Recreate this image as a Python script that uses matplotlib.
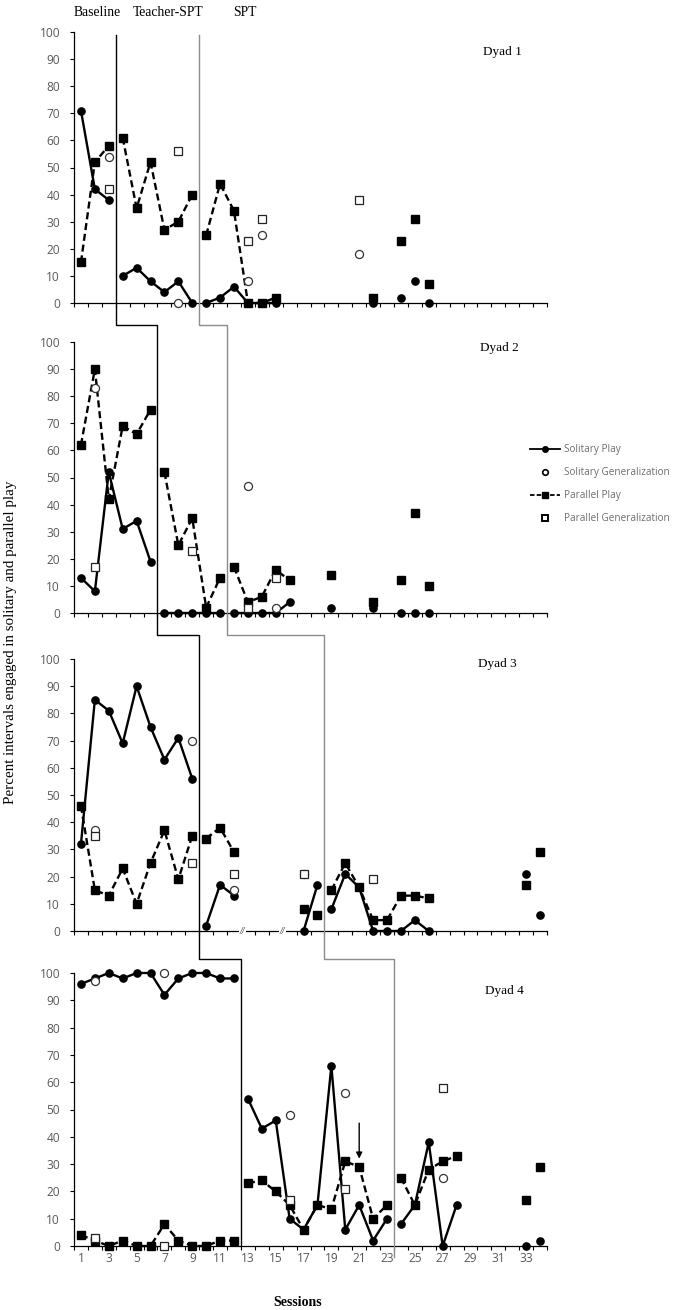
"""Multiple-baseline plot: percent intervals of solitary and parallel play, four dyads."""

import matplotlib
matplotlib.use("Agg")
import matplotlib.pyplot as plt
from matplotlib.lines import Line2D
import numpy as np

SERIF = "Liberation Serif"
SANS = "Open Sans"
TICK_GRAY = "#595959"

# ---- data (session, value) ----
D1_SOL_X = [1, 2, 3, 4, 5, 6, 7, 8, 9, 10, 11, 12, 13, 14, 15, 22, 24, 25, 26]
D1_SOL_Y = [71, 42, 38, 10, 13, 8, 4, 8, 0, 0, 2, 6, 0, 0, 0, 0, 2, 8, 0]
D1_PAR_X = [1, 2, 3, 4, 5, 6, 7, 8, 9, 10, 11, 12, 13, 14, 15, 22, 24, 25, 26]
D1_PAR_Y = [15, 52, 58, 61, 35, 52, 27, 30, 40, 25, 44, 34, 0, 0, 2, 2, 23, 31, 7]
D1_SGEN_X = [3, 8, 13, 14, 21]
D1_SGEN_Y = [54, 0, 8, 25, 18]
D1_PGEN_X = [3, 8, 13, 14, 21]
D1_PGEN_Y = [42, 56, 23, 31, 38]
D1_RUNS = [(1, 3), (4, 9), (10, 15)]

D2_SOL_X = [1, 2, 3, 4, 5, 6, 7, 8, 9, 10, 11, 12, 13, 14, 15, 16, 19, 22, 24, 25, 26]
D2_SOL_Y = [13, 8, 52, 31, 34, 19, 0, 0, 0, 0, 0, 0, 0, 0, 0, 4, 2, 2, 0, 0, 0]
D2_PAR_X = [1, 2, 3, 4, 5, 6, 7, 8, 9, 10, 11, 12, 13, 14, 15, 16, 19, 22, 24, 25, 26]
D2_PAR_Y = [62, 90, 42, 69, 66, 75, 52, 25, 35, 2, 13, 17, 4, 6, 16, 12, 14, 4, 12, 37, 10]
D2_SGEN_X = [2, 13, 15]
D2_SGEN_Y = [83, 47, 2]
D2_PGEN_X = [2, 9, 13, 15]
D2_PGEN_Y = [17, 23, 2, 13]
D2_RUNS = [(1, 6), (7, 11), (12, 16)]

D3_SOL_X = [1, 2, 3, 4, 5, 6, 7, 8, 9, 10, 11, 12, 17, 18,
            19, 20, 21, 22, 23, 24, 25, 26, 33, 34]
D3_SOL_Y = [32, 85, 81, 69, 90, 75, 63, 71, 56, 2, 17, 13, 0, 17,
            8, 21, 16, 0, 0, 0, 4, 0, 21, 6]
D3_PAR_X = [1, 2, 3, 4, 5, 6, 7, 8, 9, 10, 11, 12, 17, 18,
            19, 20, 21, 22, 23, 24, 25, 26, 33, 34]
D3_PAR_Y = [46, 15, 13, 23, 10, 25, 37, 19, 35, 34, 38, 29, 8, 6,
            15, 25, 16, 4, 4, 13, 13, 12, 17, 29]
D3_SGEN_X = [2, 9, 12, 17]
D3_SGEN_Y = [37, 70, 15, 21]
D3_PGEN_X = [2, 9, 12, 17, 22]
D3_PGEN_Y = [35, 25, 21, 21, 19]
D3_RUNS = [(1, 9), (10, 12), (17, 18), (19, 26)]
D3_BREAKS = [12.6, 15.5]

D4_SOL_X = [1, 2, 3, 4, 5, 6, 7, 8, 9, 10, 11, 12,
            13, 14, 15, 16, 17, 18, 19, 20, 21, 22, 23,
            24, 25, 26, 27, 28, 33, 34]
D4_SOL_Y = [96, 98, 100, 98, 100, 100, 92, 98, 100, 100, 98, 98,
            54, 43, 46, 10, 6, 15, 66, 6, 15, 2, 10,
            8, 15, 38, 0, 15, 0, 2]
D4_PAR_X = [1, 2, 3, 4, 5, 6, 7, 8, 9, 10, 11, 12,
            13, 14, 15, 16, 17, 18, 19, 20, 21, 22, 23,
            24, 25, 26, 27, 28, 33, 34]
D4_PAR_Y = [4, 2, 0, 2, 0, 0, 8, 2, 0, 0, 2, 2,
            23, 24, 20, 15, 6, 15, 13.5, 31, 29, 10, 15,
            25, 15, 28, 31, 33, 17, 29]
D4_SGEN_X = [2, 7, 16, 20, 27]
D4_SGEN_Y = [97, 100, 48, 56, 25]
D4_PGEN_X = [2, 7, 16, 20, 27]
D4_PGEN_Y = [3, 0, 17, 21, 58]
D4_RUNS = [(1, 12), (13, 23), (24, 28)]
D4_ARROW = (21, 45, 32)   # session, from, to

DYADS = [
    ("Dyad 1", D1_SOL_X, D1_SOL_Y, D1_PAR_X, D1_PAR_Y, D1_SGEN_X, D1_SGEN_Y, D1_PGEN_X, D1_PGEN_Y, D1_RUNS),
    ("Dyad 2", D2_SOL_X, D2_SOL_Y, D2_PAR_X, D2_PAR_Y, D2_SGEN_X, D2_SGEN_Y, D2_PGEN_X, D2_PGEN_Y, D2_RUNS),
    ("Dyad 3", D3_SOL_X, D3_SOL_Y, D3_PAR_X, D3_PAR_Y, D3_SGEN_X, D3_SGEN_Y, D3_PGEN_X, D3_PGEN_Y, D3_RUNS),
    ("Dyad 4", D4_SOL_X, D4_SOL_Y, D4_PAR_X, D4_PAR_Y, D4_SGEN_X, D4_SGEN_Y, D4_PGEN_X, D4_PGEN_Y, D4_RUNS),
]

# phase-change lines (session boundary per dyad)
PHASE_TEACHER = [3.5, 6.5, 9.5, 12.5]
PHASE_SPT = [9.5, 11.5, 18.5, 23.5]

# ---- layout (figure pixels from top) ----
W, H = 685, 1310
AX_LEFT, AX_RIGHT = 74, 547
AX_ROWS = [(32, 303), (342, 613), (659, 931), (973, 1246)]
DYAD_LABEL_XY = [(502, 52), (499, 348), (497, 664), (504, 991)]

SOL_KW = dict(color="black", lw=1.7, marker="o", ms=5.2, mfc="black", mec="black", ls="-")
PAR_KW = dict(color="black", lw=1.7, marker="s", ms=5.8, mfc="black", mec="black", ls=(0, (3, 1.6)))
SGEN_KW = dict(ls="none", marker="o", ms=5.8, mfc="white", mec="#333333", mew=0.9)
PGEN_KW = dict(ls="none", marker="s", ms=6.2, mfc="white", mec="#222222", mew=0.9)


def plot_series(ax, xs, ys, runs, kw):
    xs = np.asarray(xs, float)
    ys = np.asarray(ys, float)
    used = np.zeros(len(xs), bool)
    for lo, hi in runs:
        m = (xs >= lo) & (xs <= hi)
        used |= m
        ax.plot(xs[m], ys[m], clip_on=False, zorder=3, **kw)
    lone = dict(kw, ls="none")
    ax.plot(xs[~used], ys[~used], clip_on=False, zorder=3, **lone)


fig = plt.figure(figsize=(W / 100, H / 100), dpi=100)
axes = []
for i, (top, bot) in enumerate(AX_ROWS):
    ax = fig.add_axes([AX_LEFT / W, 1 - bot / H, (AX_RIGHT - AX_LEFT) / W, (bot - top) / H])
    axes.append(ax)
    name, sx, sy, px, py, gsx, gsy, gpx, gpy, runs = DYADS[i]
    plot_series(ax, px, py, runs, PAR_KW)
    plot_series(ax, sx, sy, runs, SOL_KW)
    ax.plot(gsx, gsy, clip_on=False, zorder=4, **SGEN_KW)
    ax.plot(gpx, gpy, clip_on=False, zorder=4, **PGEN_KW)

    ax.set_xlim(0.5, 34.5)
    ax.set_ylim(0, 100)
    ax.set_yticks(np.arange(0, 101, 10))
    ax.set_xticks(np.arange(0.5, 35, 1), minor=True)
    ax.set_xticks(np.arange(1, 35, 2))
    ax.tick_params(axis="x", which="major", length=0, pad=4)
    ax.tick_params(axis="x", which="minor", length=3, width=0.8, direction="out")
    ax.tick_params(axis="y", length=3, width=0.8, direction="out", pad=7,
                   labelsize=8.6, labelcolor=TICK_GRAY)
    for lab in ax.get_yticklabels():
        lab.set_fontfamily(SANS)
    if i < 3:
        ax.set_xticklabels([])
    else:
        ax.set_xticklabels([str(v) for v in range(1, 35, 2)], fontsize=8.6,
                           color=TICK_GRAY, fontfamily=SANS)
    for sp in ("top", "right"):
        ax.spines[sp].set_visible(False)
    for sp in ("left", "bottom"):
        ax.spines[sp].set_linewidth(0.9)
    ax.patch.set_alpha(0)

    lx, ly = DYAD_LABEL_XY[i]
    fig.text(lx / W, 1 - ly / H, name, ha="center", va="center",
             fontsize=9.5, fontfamily=SERIF)

# axis break marks on dyad 3
for bx in D3_BREAKS:
    axes[2].text(bx, 0, "//", ha="center", va="center", fontsize=7,
                 fontstyle="italic", fontfamily=SERIF, color="#222222", zorder=5,
                 bbox=dict(boxstyle="square,pad=0.05", fc="white", ec="none"))

# arrow on dyad 4
sx_, y0, y1 = D4_ARROW
axes[3].annotate("", xy=(sx_, y1), xytext=(sx_, y0),
                 arrowprops=dict(arrowstyle="-|>", color="black", lw=1.0,
                                 mutation_scale=9, shrinkA=0, shrinkB=0))

# phase-change lines running across the panels
to_fig = fig.transFigure.inverted()


def fx(session):
    return to_fig.transform(axes[3].transData.transform((session, 0)))[0]


def draw_phase(xs, color, lw, bottom_px):
    pts = [(fx(xs[0]), 1 - 35 / H)]
    for k in range(3):
        y_step = 1 - (AX_ROWS[k][1] + (22 if k < 2 else 28)) / H
        pts.append((fx(xs[k]), y_step))
        pts.append((fx(xs[k + 1]), y_step))
    pts.append((fx(xs[3]), 1 - bottom_px / H))
    px_, py_ = zip(*pts)
    fig.add_artist(Line2D(px_, py_, color=color, lw=lw, transform=fig.transFigure, zorder=1))


draw_phase(PHASE_TEACHER, "black", 1.0, 1246)
draw_phase(PHASE_SPT, "#8c8c8c", 1.0, 1257)

# phase headers
for label, xpx in [("Baseline", 97), ("Teacher-SPT", 168), ("SPT", 245)]:
    fig.text(xpx / W, 1 - 13 / H, label, ha="center", va="center",
             fontsize=9.8, fontfamily=SERIF)

fig.text(11 / W, 1 - 642 / H, "Percent intervals engaged in solitary and parallel play",
         rotation=90, ha="center", va="center", fontsize=10.8, fontfamily=SERIF)
fig.text(298 / W, 1 - 1302 / H, "Sessions", ha="center", va="center",
         fontsize=10, fontfamily=SERIF, fontweight="bold")

# legend
handles = [
    Line2D([0], [0], color="black", lw=1.3, marker="o", ms=4, mfc="black", label="Solitary Play"),
    Line2D([0], [0], ls="none", marker="o", ms=4, mfc="white", mec="black", mew=1.2,
           label="Solitary Generalization"),
    Line2D([0], [0], color="black", lw=1.3, ls=(0, (2.5, 1.2)), marker="s", ms=4.5, mfc="black",
           label="Parallel Play"),
    Line2D([0], [0], ls="none", marker="s", ms=4.5, mfc="white", mec="black", mew=1.4,
           label="Parallel Generalization"),
]
leg = fig.legend(handles=handles, loc="upper left",
                 bbox_to_anchor=(526 / W, 1 - 440 / H), frameon=False,
                 prop=dict(family=SANS, size=7.2), handlelength=3.0,
                 handletextpad=0.45, labelspacing=1.2, borderaxespad=0)
for t in leg.get_texts():
    t.set_color("#6e6e6e")

fig.savefig("out.png", dpi=100)
